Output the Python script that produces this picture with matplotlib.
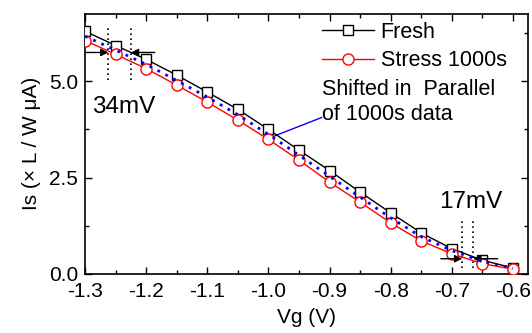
import matplotlib
matplotlib.use("Agg")
import matplotlib.pyplot as plt
from matplotlib.ticker import MultipleLocator

plt.rcParams['font.family'] = ['Liberation Sans', 'DejaVu Sans']

vg = [-1.3, -1.25, -1.2, -1.15, -1.1, -1.05, -1.0, -0.95, -0.9, -0.85, -0.8, -0.75, -0.7, -0.65, -0.6]
fresh = [6.30, 5.93, 5.57, 5.16, 4.72, 4.27, 3.75, 3.21, 2.68, 2.12, 1.58, 1.06, 0.65, 0.35, 0.15]
stress = [6.06, 5.70, 5.33, 4.90, 4.46, 3.99, 3.49, 2.95, 2.38, 1.86, 1.32, 0.85, 0.52, 0.26, 0.12]
shifted = [6.17, 5.81, 5.44, 5.02, 4.59, 4.13, 3.62, 3.08, 2.53, 1.99, 1.45, 0.96, 0.60, 0.32, 0.14]

# shift markers (dotted verticals + arrows)
hi_lines = [-1.262, -1.225]
lo_lines = [-0.683, -0.665]

fig = plt.figure(figsize=(5.32, 3.33), dpi=100)
ax = fig.add_axes([0.160, 0.178, 0.833, 0.780])

ax.plot(vg, fresh, color='black', lw=1, marker='s', ms=7, mfc='white', mec='black', mew=1,
        label='Fresh', zorder=3)
ax.plot(vg, stress, color='red', lw=1, marker='o', ms=8, mfc='white', mec='red', mew=1,
        label='Stress 1000s', zorder=3)
ax.plot(vg, shifted, color='blue', lw=2, ls=(0, (1, 2.2)), zorder=4)

for x in hi_lines:
    ax.plot([x, x], [5.03, 6.45], color='black', lw=1.2, ls=(0, (1, 2)))
for x in lo_lines:
    ax.plot([x, x], [0.16, 1.37], color='black', lw=1.2, ls=(0, (1, 2)))

arrow = dict(arrowstyle='-|>', color='black', lw=1, mutation_scale=11, shrinkA=0, shrinkB=0)
ax.annotate('', xy=(hi_lines[0], 5.75), xytext=(-1.3, 5.75), arrowprops=arrow)
ax.annotate('', xy=(hi_lines[1], 5.75), xytext=(-1.186, 5.75), arrowprops=arrow)
ax.annotate('', xy=(lo_lines[0], 0.39), xytext=(-0.718, 0.39), arrowprops=arrow)
ax.annotate('', xy=(lo_lines[1], 0.39), xytext=(-0.625, 0.39), arrowprops=arrow)

ax.text(-1.288, 4.33, '34mV', fontsize=17.5, va='center', ha='left')
ax.text(-0.721, 1.87, '17mV', fontsize=17.5, va='center', ha='left')

ax.text(-0.913, 4.45, 'Shifted in  Parallel\nof 1000s data', fontsize=15.5, va='center', ha='left',
        linespacing=1.25)
ax.plot([-0.995, -0.913], [3.55, 4.06], color='blue', lw=1)

ax.set_xlim(-1.3, -0.575)
ax.set_ylim(0, 6.75)
ax.xaxis.set_minor_locator(MultipleLocator(0.05))
ax.yaxis.set_minor_locator(MultipleLocator(1.25))
ax.set_xticks([-1.3, -1.2, -1.1, -1.0, -0.9, -0.8, -0.7, -0.6])
ax.set_xticklabels(['-1.3', '-1.2', '-1.1', '-1.0', '-0.9', '-0.8', '-0.7', '-0.6'])
ax.set_yticks([0, 2.5, 5.0])
ax.set_yticklabels(['0.0', '2.5', '5.0'])
ax.tick_params(which='both', direction='in', top=True, right=True, labelsize=15, width=1)
ax.tick_params(which='major', length=5)
ax.tick_params(which='minor', length=3)
ax.tick_params(axis='x', pad=6)
ax.tick_params(axis='y', pad=5)
for s in ax.spines.values():
    s.set_linewidth(1.2)

ax.set_xlabel('Vg (V)', fontsize=15, labelpad=5)
ax.set_ylabel('Is (\u00d7 L / W \u03bcA)', fontsize=15, labelpad=6)

ax.legend(loc='upper left', bbox_to_anchor=(0.605, 0.934), bbox_transform=fig.transFigure,
          frameon=False, fontsize=15.5, handlelength=2.4, handletextpad=0.33,
          labelspacing=0.33, borderpad=0, borderaxespad=0)

fig.savefig('out.png', dpi=100)
